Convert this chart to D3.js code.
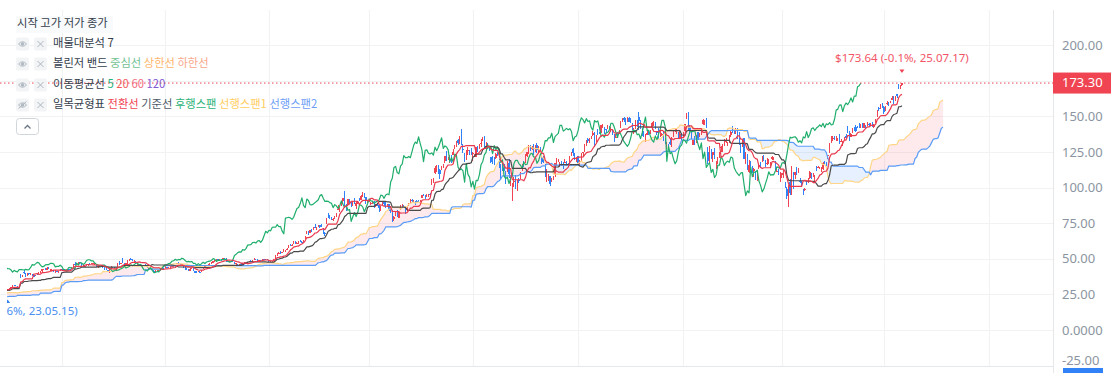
<!DOCTYPE html>
<html>
<head>
<meta charset="utf-8">
<script src="https://cdn.jsdelivr.net/npm/d3@7"></script>
<style>
body { margin: 0; background: #fff; }
svg { display: block; font-family: "Noto Sans CJK KR", "Noto Sans", sans-serif; }
</style>
</head>
<body>
<div id="chart"></div>
<script>
const WIDTH = 1114, HEIGHT = 373;
const PLOT = {left: 7, right: 1053, top: 10, bottom: 367};
const BAR_STEP = 1.644, FIRST_X = 7.6;
const ICHIMOKU = {conversion: 9, base: 26, spanB: 52, shift: 25};

// trading calendar
const startDate = '2023-01-20';
const firstVisibleDate = '2023-05-15';
const holidays = ['2023-02-20','2023-04-07','2023-05-29','2023-06-19','2023-07-04','2023-09-04','2023-11-23','2023-12-25',
  '2024-01-01','2024-01-15','2024-02-19','2024-03-29','2024-05-27','2024-06-19','2024-07-04','2024-09-02','2024-11-28','2024-12-25',
  '2025-01-01','2025-01-09','2025-01-20','2025-02-17','2025-04-18','2025-05-26','2025-06-19','2025-07-04','2025-09-01','2025-11-27','2025-12-25'];

// daily candles: [open, high, low, close]
const prices2023 = [
  // Jan (from 20th)
  [17.3,17.9,17.1,17.8],[18.1,19.3,17.9,19.2],[19.0,19.5,18.9,19.2],[18.8,19.4,18.6,19.3],[19.6,19.9,19.2,19.8],[19.8,20.6,19.7,20.3],[19.9,20.0,19.2,19.2],[19.2,19.6,19.0,19.5],
  // Feb
  [19.5,21.0,19.3,20.9],[21.5,21.8,21.2,21.7],[21.0,21.6,20.9,21.1],[20.8,21.3,20.6,21.1],[21.2,22.4,21.0,22.3],[22.2,22.6,21.9,22.2],[22.5,22.6,21.8,21.9],[21.6,21.7,20.9,21.2],[21.3,21.7,21.0,21.6],[21.6,22.9,21.3,22.8],
  [22.6,22.7,22.1,22.5],[22.0,22.2,21.6,21.7],[21.5,21.6,20.9,21.3],[20.9,21.1,20.6,20.7],[20.9,21.0,20.4,20.7],[23.5,23.7,22.6,23.4],[22.9,23.4,22.7,23.3],[23.5,23.9,23.2,23.5],[23.2,23.6,23.1,23.2],
  // Mar
  [23.0,23.1,22.3,22.7],[22.4,23.2,22.3,23.1],[23.2,24.0,23.1,23.9],[23.9,24.1,23.5,23.6],[23.6,23.9,23.2,23.4],[23.5,24.3,23.4,24.2],[24.2,24.4,23.6,23.7],[23.6,23.6,22.7,22.9],[22.6,23.3,22.2,22.9],[23.5,24.3,23.2,24.2],[24.0,24.4,23.8,24.3],[24.3,25.6,24.2,25.5],
  [25.6,26.0,25.5,25.7],[25.6,26.0,25.2,25.9],[26.0,26.6,25.9,26.1],[26.4,27.1,26.4,26.5],[26.8,27.2,26.3,27.1],[26.8,26.9,26.3,26.7],[26.8,26.9,26.3,26.5],[26.4,26.5,26.0,26.4],[26.8,27.1,26.6,26.9],[27.3,27.6,27.1,27.3],[27.5,27.8,27.3,27.8],
  // Apr
  [27.5,28.0,27.3,27.9],[27.9,28.1,27.3,27.5],[27.3,27.3,26.7,26.9],[26.8,27.2,26.5,27.0],[26.8,27.4,26.8,27.3],[27.3,27.5,27.0,27.1],[27.3,27.3,26.5,26.5],[26.6,26.9,26.3,26.7],[26.6,27.0,26.5,26.7],[26.8,27.0,26.6,27.0],
  [27.1,27.4,26.9,27.1],[26.7,27.1,26.6,27.0],[26.7,27.2,26.6,27.0],[27.0,27.2,26.8,27.1],[27.1,27.2,26.6,27.0],[26.9,27.0,26.2,26.2],[26.3,27.1,26.2,26.9],[27.2,27.3,26.9,27.2],[27.1,27.8,27.0,27.7],
  // May
  [27.9,29.0,27.8,28.9],[28.6,28.7,28.0,28.3],[28.2,28.5,27.7,27.9],[27.8,27.9,27.3,27.6],[27.9,28.8,27.8,28.7],[28.7,29.5,28.6,29.3],[29.0,29.0,28.4,28.5],[28.8,29.0,28.3,28.7],[28.7,28.8,28.1,28.3],[28.5,28.6,27.8,28.3],
  [28.6,28.7,28.14,28.3],[28.4,29.2,28.3,29.1],[29.3,30.3,29.0,30.2],[30.5,31.7,30.3,31.6],[31.6,31.9,30.9,31.2],[31.3,31.6,30.6,31.1],[31.0,31.2,30.2,30.7],[30.2,30.7,29.9,30.5],[38.5,39.5,36.6,37.9],[38.2,38.9,36.9,38.9],[40.4,41.9,39.4,40.1],[39.3,40.0,37.3,37.8],
  // Jun
  [38.4,39.8,38.1,39.7],[39.8,40.0,38.8,39.3],[39.0,39.7,38.6,39.2],[39.2,39.2,38.0,38.7],[38.7,39.0,37.4,37.5],[37.8,38.7,37.6,38.6],[39.0,39.5,38.6,38.8],[39.1,40.6,39.0,40.5],[41.0,41.1,40.1,41.0],[41.5,43.0,41.0,42.9],[42.4,42.9,41.9,42.6],
  [43.0,43.3,42.4,42.6],[42.4,43.9,42.4,43.8],[43.6,43.9,42.6,43.0],[42.1,43.0,41.7,43.0],[42.0,42.6,41.6,42.2],[42.0,42.1,40.5,40.6],[40.6,42.0,40.2,41.9],[41.3,41.5,40.7,41.1],[40.8,41.5,40.5,40.8],[41.6,42.5,41.5,42.3],
  // Jul
  [42.6,42.8,42.1,42.4],[42.1,42.4,41.5,42.3],[41.7,42.3,41.3,42.1],[42.0,42.8,41.9,42.5],[42.4,42.6,41.3,42.2],[42.5,42.6,41.7,42.4],[43.2,43.9,42.9,43.9],[44.5,46.1,44.3,45.9],[46.4,48.0,45.3,45.5],[46.2,46.5,45.4,46.4],
  [46.5,47.7,45.9,47.5],[47.4,47.6,46.5,47.1],[46.7,46.9,45.2,45.5],[45.6,45.7,44.0,44.3],[44.6,45.1,43.9,44.6],[44.9,45.9,44.6,45.7],[45.3,46.0,45.0,45.9],[47.0,47.3,45.5,45.9],[46.6,47.0,46.3,46.7],[46.7,46.8,46.0,46.7],
  // Aug
  [46.2,46.7,45.9,46.5],[45.7,45.7,43.9,44.3],[43.9,45.0,43.7,44.6],[45.0,45.5,44.3,44.6],[44.6,45.6,44.2,45.5],[44.7,45.2,43.2,44.6],[44.4,44.5,42.1,42.5],[42.9,43.3,41.9,42.4],[42.1,42.3,40.5,40.9],[40.4,43.8,40.3,43.7],[43.9,44.7,43.1,43.9],[44.2,44.5,43.2,43.4],
  [44.0,44.4,42.8,43.4],[42.5,43.5,41.7,43.3],[44.0,47.0,43.9,46.9],[47.6,48.1,45.3,45.6],[46.8,47.3,46.0,47.1],[50.2,50.2,47.0,47.1],[46.1,46.9,44.8,46.0],[46.5,46.9,45.8,46.8],[46.8,49.0,46.6,48.8],[48.9,49.6,48.5,49.3],[49.7,50.2,49.2,49.3],
  // Sep
  [49.9,49.9,48.2,48.5],[48.4,48.9,47.8,48.5],[48.6,48.6,46.6,47.0],[45.9,46.8,45.4,46.2],[46.1,46.5,45.4,45.5],[46.1,46.3,44.7,45.1],[44.7,45.5,44.4,45.1],[44.9,45.6,44.6,45.5],[46.2,46.4,45.3,45.6],[45.3,45.4,43.8,43.9],
  [42.8,44.2,42.8,43.9],[43.6,43.9,42.8,43.5],[43.7,43.8,42.2,42.2],[41.7,42.0,41.0,41.0],[41.4,42.0,41.2,41.6],[41.2,42.3,41.1,42.2],[41.7,42.2,41.5,41.9],[42.0,42.5,41.6,42.4],[42.0,43.2,41.8,43.0],[43.7,43.8,43.2,43.5],
  // Oct
  [44.0,44.9,43.8,44.8],[44.5,44.5,43.3,43.5],[43.3,44.1,43.2,44.0],[43.8,44.8,43.7,44.6],[44.0,45.8,44.0,45.7],[45.0,45.3,44.5,45.2],[45.2,45.9,45.1,45.7],[46.3,46.9,46.1,46.9],[47.0,47.4,46.5,46.9],[46.8,46.8,45.3,45.5],[45.6,46.3,45.3,46.1],
  [44.1,44.9,43.3,43.9],[43.9,44.1,42.0,42.2],[42.5,43.3,41.9,42.1],[42.3,42.6,41.3,41.4],[41.6,43.3,41.2,42.9],[43.2,43.8,42.8,43.6],[43.2,43.2,41.7,41.8],[41.2,41.4,40.1,40.3],[40.8,41.2,40.4,40.5],[41.0,41.6,40.6,41.1],[40.9,41.1,40.2,40.8],
  // Nov
  [40.9,42.4,40.8,42.3],[42.9,43.6,42.6,43.5],[44.0,45.1,43.9,45.0],[45.0,45.8,44.7,45.7],[45.9,46.3,45.5,45.9],[46.0,46.7,45.8,46.6],[46.9,47.5,46.6,46.9],[47.2,48.4,46.9,48.3],[48.2,48.8,47.9,48.6],[49.5,49.7,48.6,49.6],[49.9,50.0,48.7,48.9],
  [48.8,49.6,48.3,49.5],[49.4,49.6,48.8,49.3],[49.4,50.5,49.1,50.4],[50.2,50.5,49.4,49.9],[49.9,50.2,48.0,48.8],[48.4,48.4,47.7,47.8],[47.8,48.6,47.7,48.2],[48.2,48.3,47.4,47.8],[48.3,48.8,47.8,48.1],[47.9,47.9,46.5,46.8],
  // Dec
  [46.5,47.0,45.9,46.8],[46.0,46.0,45.0,45.5],[45.3,46.6,45.0,46.6],[46.6,46.8,45.5,45.5],[45.8,46.7,45.6,46.6],[46.5,47.6,46.4,47.5],[47.3,47.4,46.0,46.6],[46.6,47.7,46.2,47.7],[47.6,48.5,47.4,48.1],[48.4,48.8,47.6,48.3],
  [48.0,49.4,47.9,48.9],[49.1,50.4,48.9,50.1],[50.1,50.1,49.2,49.6],[49.5,49.9,48.1,48.1],[48.8,49.2,48.2,49.0],[49.2,49.4,48.4,48.8],[48.9,49.6,48.6,49.3],[49.5,49.7,49.1,49.4],[49.6,49.9,49.3,49.5],[49.8,49.9,48.8,49.5]
];

const prices2024 = [
  // Jan
  [49.2,49.3,47.6,48.2],[47.5,48.2,47.3,47.6],[47.8,48.5,47.5,48.0],[48.5,49.5,48.5,49.1],[49.5,52.3,49.5,52.3],[52.4,54.3,51.7,53.1],[53.6,54.6,53.6,54.3],[54.9,55.3,53.6,54.8],[54.6,55.0,54.2,54.7],[55.0,56.5,54.8,56.4],[55.5,56.3,55.0,56.0],
  [56.6,57.5,56.3,57.1],[57.9,59.5,57.4,59.5],[59.9,60.5,59.4,59.7],[59.9,60.2,59.0,59.9],[61.2,62.8,60.6,61.3],[62.2,62.7,60.7,61.6],[60.9,61.6,60.3,61.0],[61.2,62.4,60.7,62.4],[62.9,63.3,62.0,62.8],[61.7,62.6,61.5,61.5],
  // Feb
  [62.1,63.1,61.8,63.0],[63.9,66.2,63.7,66.1],[68.3,69.4,67.6,69.3],[69.3,69.4,66.4,68.2],[68.3,70.1,68.3,70.0],[70.3,70.7,69.0,69.6],[70.5,72.1,70.0,72.1],[72.6,74.6,71.4,72.2],[70.4,72.1,70.0,72.1],[73.3,74.0,72.3,73.9],
  [73.8,73.9,71.5,72.6],[74.1,74.4,72.4,72.6],[71.9,71.9,67.7,69.4],[68.2,68.6,66.2,67.5],[75.0,78.6,74.6,78.5],[80.7,82.4,78.3,78.8],[79.7,80.6,78.1,79.1],[79.3,79.6,77.2,78.7],[77.6,78.9,76.2,77.6],[79.0,79.9,78.2,79.1],
  // Mar
  [80.0,82.3,79.4,82.3],[84.1,87.6,84.1,85.2],[85.2,86.1,83.1,86.0],[88.0,89.7,86.7,88.7],[90.2,92.7,89.3,92.7],[95.1,97.4,86.5,87.5],[86.4,88.6,83.3,85.8],[88.1,91.9,86.9,91.9],[91.3,91.9,88.3,90.9],[89.6,90.6,86.0,87.9],
  [86.9,89.6,86.7,87.8],[90.4,92.4,88.1,88.4],[86.7,90.6,85.0,89.4],[89.8,90.4,88.2,90.4],[92.3,92.6,90.3,91.4],[91.2,94.7,90.9,94.3],[93.9,96.8,93.4,95.0],[95.8,96.4,92.5,92.5],[93.1,93.2,88.7,90.2],[90.0,91.2,89.3,90.4],
  // Apr
  [90.2,92.2,89.9,90.3],[88.4,89.5,87.8,89.4],[88.4,90.3,88.1,88.9],[90.4,90.7,85.9,85.9],[86.8,88.4,86.0,88.0],[88.7,88.8,86.8,87.1],[87.4,87.6,83.0,85.3],[83.9,87.1,83.8,87.0],[87.4,90.7,86.9,90.6],[89.7,90.1,87.1,88.2],[89.0,90.6,85.9,86.0],
  [86.5,88.1,86.0,87.4],[88.3,88.4,83.6,84.0],[84.9,86.1,82.4,84.6],[83.2,84.3,75.6,76.2],[78.1,80.0,76.2,79.5],[80.8,82.8,80.3,82.4],[83.9,84.0,79.0,79.6],[78.9,82.9,78.8,82.6],[84.5,88.0,84.0,87.7],[87.6,88.6,86.4,87.7],[87.2,88.0,86.3,86.4],
  // May
  [85.0,86.0,81.2,83.0],[84.5,86.0,83.5,85.8],[87.8,89.2,87.2,88.8],[89.4,92.2,89.3,92.1],[91.0,91.8,89.7,90.6],[89.5,90.9,89.3,90.4],[90.1,90.2,87.4,88.7],[90.3,91.0,89.2,89.9],[90.7,91.1,89.9,90.4],[89.9,91.4,89.5,91.3],[92.5,94.7,92.4,94.6],
  [95.0,95.4,94.0,94.4],[94.3,94.7,92.0,92.4],[93.3,95.4,93.0,94.8],[94.0,95.4,93.1,95.4],[95.4,96.0,94.0,94.9],[102.0,106.3,101.5,103.8],[104.4,106.5,103.0,106.5],[110.2,114.9,109.2,114.0],[113.1,115.5,110.9,114.8],[114.7,115.8,109.7,110.5],[112.5,112.7,106.0,109.6],
  // Jun
  [113.6,115.0,112.3,115.0],[115.7,116.6,114.0,116.4],[118.4,122.4,117.5,122.4],[124.1,125.6,118.3,120.9],[119.8,121.7,119.0,120.9],[120.4,123.1,117.0,121.8],[121.8,122.9,117.0,120.9],[123.1,126.9,122.8,125.2],[129.4,129.8,127.1,129.6],[129.9,132.8,128.3,131.9],
  [133.0,133.7,129.6,130.9],[131.1,136.3,130.7,135.6],[139.8,140.8,129.5,130.8],[127.1,130.6,124.3,126.6],[123.2,124.5,118.0,118.1],[121.2,126.5,119.3,126.1],[126.1,128.1,122.6,126.4],[124.1,126.4,122.9,124.0],[124.6,127.7,122.8,123.5],
  // Jul
  [123.5,124.8,118.8,124.3],[121.1,123.4,121.1,122.7],[121.7,128.3,121.4,128.3],[127.4,128.9,125.2,125.8],[127.5,130.8,127.0,128.2],[130.4,133.8,128.7,131.4],[134.0,135.1,132.4,134.9],[135.8,136.2,127.0,127.4],[128.3,131.9,127.2,129.2],[130.6,131.4,127.2,128.4],[128.4,128.9,125.5,126.4],
  [121.4,121.6,117.2,118.0],[121.8,122.4,116.7,121.1],[120.4,121.6,116.0,117.9],[120.4,124.1,119.9,123.5],[122.8,124.7,122.1,122.6],[119.2,119.9,113.4,114.3],[113.0,116.6,106.3,112.3],[116.2,116.2,111.6,113.1],[113.7,116.3,111.3,111.6],[111.5,111.6,102.5,103.7],[112.9,118.3,110.9,117.0],
  // Aug
  [117.5,120.2,106.8,109.2],[103.8,108.7,101.4,107.3],[92.1,103.4,90.7,100.5],[103.8,107.7,100.6,104.3],[107.8,108.8,98.7,98.9],[102.0,105.5,97.5,105.0],[105.6,106.6,103.4,104.8],[106.3,111.1,106.3,109.0],[112.4,116.2,111.6,116.1],[118.5,118.6,114.1,118.1],[118.8,123.2,117.5,122.9],
  [121.9,125.0,121.2,124.6],[124.3,130.0,123.4,130.0],[128.4,129.9,125.9,127.3],[127.3,129.4,126.2,128.5],[130.0,130.8,123.1,123.7],[125.9,129.6,125.2,129.4],[129.6,131.3,124.4,126.5],[125.0,129.2,123.9,128.3],[128.1,128.3,122.6,125.6],[121.4,124.4,116.7,117.6],[119.5,121.8,117.2,119.4],
  // Sep
  [116.0,116.2,107.3,108.0],[105.4,113.3,104.1,106.2],[105.0,109.7,104.8,107.2],[108.0,108.2,100.9,102.8],[104.9,106.6,103.7,106.5],[107.8,108.4,105.3,108.1],[109.4,117.2,107.4,116.9],[116.8,120.8,115.4,119.1],[119.1,120.0,117.6,119.1],[116.8,118.2,114.4,116.8],
  [118.2,118.8,114.8,115.6],[115.9,117.7,113.2,113.4],[117.4,119.7,117.2,117.9],[117.1,118.6,115.4,116.0],[116.6,117.0,114.9,116.3],[116.5,121.8,115.4,120.9],[122.0,124.9,121.9,123.5],[126.8,127.7,121.8,124.0],[124.0,124.0,119.3,121.4],[118.3,121.5,118.2,121.4],
  // Oct
  [121.8,122.4,115.8,117.0],[116.4,119.4,115.1,118.9],[120.9,124.4,118.6,122.9],[124.9,125.0,121.8,124.9],[125.0,130.6,124.9,127.7],[130.3,133.5,129.4,132.9],[134.1,134.5,131.4,132.7],[131.9,135.0,131.0,134.8],[134.0,135.8,133.7,134.8],[136.5,139.6,136.3,138.1],[137.9,138.6,128.7,131.6],[134.0,136.6,131.6,135.7],
  [139.3,140.9,136.9,136.9],[138.7,138.9,137.3,138.0],[138.1,143.7,138.0,143.7],[142.9,144.4,141.8,143.6],[142.0,142.4,137.5,139.6],[140.8,141.4,138.0,140.4],[140.9,144.1,140.8,141.5],[143.0,143.1,140.1,140.5],[140.3,142.3,138.9,141.3],[139.5,140.3,136.8,139.3],[137.6,137.6,132.1,132.8],
  // Nov
  [134.7,137.3,134.6,135.4],[137.2,139.0,135.6,136.1],[137.5,140.4,137.3,139.9],[143.0,146.5,142.0,145.6],[146.4,148.9,146.2,148.9],[148.8,149.8,146.3,147.6],[148.7,148.9,143.6,145.3],[146.8,149.7,146.1,148.3],[149.1,149.3,145.9,146.3],[147.6,149.0,145.6,146.8],
  [144.9,145.2,140.1,142.0],[139.5,141.6,137.2,140.2],[141.3,147.1,141.0,147.0],[147.4,147.6,142.7,145.9],[149.4,152.9,140.7,146.7],[145.9,147.2,141.1,142.0],[142.0,142.1,135.8,136.0],[137.7,139.3,135.7,136.9],[135.0,137.2,131.8,135.3],[136.8,139.4,136.7,138.3],
  // Dec
  [138.8,140.4,137.0,138.6],[138.3,140.5,137.8,140.3],[142.0,145.8,140.3,145.1],[145.1,146.5,143.2,145.1],[144.6,145.7,141.3,142.4],[139.0,140.0,137.1,138.8],[139.0,141.8,133.8,135.1],[137.4,140.2,135.2,139.3],[137.1,138.4,135.8,137.3],[138.9,139.6,132.5,134.3],[134.2,134.4,130.4,132.0],
  [129.1,131.6,126.9,130.4],[130.0,130.8,128.3,128.9],[131.8,134.0,129.6,130.7],[129.8,135.3,128.2,134.7],[136.3,139.8,135.1,139.7],[140.0,141.9,138.7,140.2],[139.7,140.9,137.7,139.9],[138.6,139.0,134.7,137.0],[134.8,140.3,134.0,137.5],[138.0,138.1,133.5,134.3]
];

const prices2025 = [
  // Jan
  [136.0,138.9,134.6,138.3],[140.0,144.9,139.7,144.5],[148.6,152.2,147.8,149.4],[153.0,153.1,140.0,140.1],[142.6,144.0,137.6,140.1],[137.5,139.9,134.2,135.9],[130.0,133.5,129.5,133.2],[136.1,136.4,130.1,131.8],[133.7,136.5,131.3,136.2],[138.6,138.8,133.5,133.6],
  [136.7,138.5,135.5,137.7],[139.2,141.8,137.1,140.8],[144.7,147.8,143.7,147.1],[145.1,147.2,143.7,147.2],[148.4,149.0,141.9,142.6],[124.8,128.4,116.7,118.4],[121.8,129.0,116.3,129.0],[126.5,126.9,120.1,123.7],[123.1,125.0,118.1,124.7],[123.8,127.9,120.0,120.1],
  // Feb
  [114.8,118.6,113.0,116.7],[117.0,121.2,116.7,118.7],[121.8,125.0,120.8,124.8],[127.4,128.8,125.2,128.7],[129.2,130.4,125.0,129.8],[130.1,133.9,129.0,133.6],[132.6,134.5,131.0,132.8],[130.0,132.2,129.1,131.1],[131.6,136.5,131.2,135.3],[136.5,139.3,135.5,138.9],
  [141.3,143.4,137.9,139.4],[139.5,141.4,137.8,139.2],[140.0,141.5,137.4,140.1],[140.0,141.5,134.0,134.4],[136.6,138.6,130.1,130.3],[130.0,130.2,124.4,126.6],[130.0,133.7,128.5,131.3],[135.0,135.0,120.0,120.2],[118.0,125.1,116.4,124.9],
  // Mar
  [123.5,123.7,112.3,114.1],[110.7,119.3,110.1,116.0],[117.6,118.3,114.5,117.3],[113.5,115.4,110.0,110.6],[111.3,113.5,107.6,112.7],[109.9,111.9,105.5,107.0],[107.0,112.2,104.8,108.8],[114.1,116.8,113.2,115.7],[117.0,117.8,113.8,115.6],[118.6,121.8,118.2,121.7],[122.7,122.9,118.7,119.5],
  [118.0,119.0,114.5,115.4],[117.3,120.5,116.0,117.5],[116.6,120.0,116.5,118.5],[116.8,118.0,115.4,117.7],[119.9,122.2,119.3,121.4],[120.6,121.3,119.1,120.7],[118.7,118.8,112.3,113.8],[111.4,114.5,110.7,111.4],[111.5,112.9,109.1,109.7],[105.1,111.0,103.7,108.4],
  // Apr
  [108.5,110.2,106.5,110.2],[107.3,112.0,106.8,110.4],[103.5,103.9,100.0,101.8],[98.9,100.1,92.1,94.3],[87.5,101.8,86.6,97.6],[103.8,105.9,94.5,96.3],[98.9,115.1,94.9,114.3],[109.4,110.9,99.2,107.6],[108.5,110.9,105.8,110.9],[114.1,114.3,109.1,110.7],[111.0,113.6,110.5,112.2],
  [104.6,106.6,102.9,104.5],[104.5,104.8,100.1,101.5],[98.8,99.0,95.0,96.9],[98.8,99.8,97.3,98.9],[104.5,104.8,102.0,102.7],[103.5,106.5,103.1,106.4],[106.9,111.9,105.7,111.0],[109.7,110.4,106.0,108.7],[107.7,110.2,107.4,109.0],[104.5,109.0,104.1,108.9],
  // May
  [113.1,114.9,111.3,111.6],[114.2,115.4,113.4,114.5],[112.9,114.7,112.7,113.8],[111.5,114.7,110.8,113.5],[113.1,117.7,112.3,117.1],[118.3,118.7,115.9,117.4],[117.4,118.2,115.2,116.7],[122.0,123.1,120.3,123.0],[125.0,131.2,124.5,129.9],[133.2,136.0,131.5,135.3],[134.3,136.3,132.7,134.8],
  [136.2,136.4,133.5,135.4],[132.4,135.9,132.4,135.6],[134.3,134.6,132.6,134.4],[133.1,137.4,130.6,131.8],[132.2,134.3,131.6,132.8],[130.0,132.7,129.2,131.3],[134.2,135.7,133.3,135.5],[136.0,137.3,134.8,134.8],[142.3,143.5,137.9,139.2],[138.7,139.6,132.9,135.1],
  // Jun
  [135.5,138.1,135.4,137.4],[138.8,142.0,138.0,141.2],[142.2,142.4,139.5,141.9],[142.2,144.0,138.8,140.0],[142.5,143.3,141.5,141.7],[143.2,145.0,141.9,142.6],[142.7,144.3,141.5,144.0],[144.6,145.0,141.9,142.8],[142.0,145.1,141.9,145.0],[142.5,143.6,140.9,142.0],
  [143.4,146.2,143.2,144.7],[144.5,145.2,143.2,144.1],[144.0,145.6,143.1,145.5],[145.5,146.2,142.7,143.9],[142.5,144.8,142.0,144.2],[145.6,147.9,145.5,147.9],[149.3,154.5,149.3,154.3],[155.9,156.7,154.0,155.0],[156.0,158.7,155.2,157.8],[158.4,159.0,156.0,158.0],
  // Jul
  [156.3,157.2,151.5,153.3],[153.7,157.3,153.6,157.3],[158.4,161.0,157.6,159.3],[158.7,159.9,157.1,158.2],[159.8,160.5,159.5,160.0],[161.2,164.4,161.2,162.9],[164.3,164.4,158.3,160.0],[161.8,164.4,161.0,164.1],[165.4,165.5,162.5,164.1],[172.0,172.4,169.2,170.7],
  [171.1,171.8,169.3,171.4],[172.0,173.64,170.9,173.3]
];

const yTicks = [200, 175, 150, 125, 100, 75, 50, 25, 0, -25];
const yTickLabels = ['200.00', '175.00', '150.00', '125.00', '100.00', '75.00', '50.00', '25.00', '0.0000', '-25.00'];
const priceTag = '173.30';
const maxLabel = '$173.64 (-0.1%, 25.07.17)';
const minLabel = '$28.14 (-83.76%, 23.05.15)';

const COLORS = {
  up: '#f04452', down: '#3182f6',
  conversion: '#e8394e', base: '#4a4a4a', lagging: '#1fae6c',
  spanA: '#ffd688', spanB: '#5b9cf6',
  cloudUp: 'rgba(244, 96, 110, 0.13)', cloudDown: 'rgba(91, 156, 246, 0.15)',
  grid: '#f0f2f4', axisText: '#8b95a1', text: '#333d4b'
};

const legendRows = [
  {y: 24, icons: false, parts: [['시작 고가 저가 종가', COLORS.text]]},
  {y: 44, icons: 'eye', parts: [['매물대분석 7', COLORS.text]]},
  {y: 64, icons: 'eye', parts: [['볼린저 밴드', COLORS.text], ['중심선', '#72c294'], ['상한선', '#ffb56b'], ['하한선', '#f9a88c']]},
  {y: 85, icons: 'eye', parts: [['이동평균선', COLORS.text], ['5', '#27b47a'], ['20', '#f25a5a'], ['60', '#f26b82'], ['120', '#8358d4']]},
  {y: 105, icons: 'hidden', parts: [['일목균형표', COLORS.text], ['전환선', '#f04452'], ['기준선', '#4e5968'], ['후행스팬', '#2bb276'], ['선행스팬1', '#ffcd5e'], ['선행스팬2', '#6b9ef6']]}
];

// ---------- helpers
const parseDate = d3.utcParse('%Y-%m-%d');
const fmtDate = d3.utcFormat('%Y-%m-%d');
const holidaySet = new Set(holidays);

function tradingDays(from, count) {
  const out = [];
  let d = parseDate(from);
  while (out.length < count) {
    const wd = d.getUTCDay();
    if (wd !== 0 && wd !== 6 && !holidaySet.has(fmtDate(d))) out.push(d);
    d = d3.utcDay.offset(d, 1);
  }
  return out;
}

function midRange(data, i, n) {
  if (i < n - 1) return null;
  const win = data.slice(i - n + 1, i + 1);
  return (d3.max(win, d => d[1]) + d3.min(win, d => d[2])) / 2;
}

// ---------- data prep
const candles = [...prices2023, ...prices2024, ...prices2025];
const dates = tradingDays(startDate, candles.length + 140);
const offset = dates.findIndex(d => fmtDate(d) === firstVisibleDate);

const conversion = candles.map((d, i) => ({i, v: midRange(candles, i, ICHIMOKU.conversion)}));
const base = candles.map((d, i) => ({i, v: midRange(candles, i, ICHIMOKU.base)}));
const spanA = candles.map((d, i) => {
  const t = conversion[i].v, k = base[i].v;
  return {i: i + ICHIMOKU.shift, v: t != null && k != null ? (t + k) / 2 : null};
});
const spanB = candles.map((d, i) => ({i: i + ICHIMOKU.shift, v: midRange(candles, i, ICHIMOKU.spanB)}));
const lagging = candles.map((d, i) => ({i: i - ICHIMOKU.shift, v: d[3]}));
const cloud = spanA.map((a, k) => ({i: a.i, a: a.v, b: spanB[k].v})).filter(d => d.a != null && d.b != null);

// ---------- scales
const x = d3.scaleLinear().domain([offset, offset + 1]).range([FIRST_X, FIRST_X + BAR_STEP]);
const y = d3.scaleLinear().domain([0, 200]).range([330, 45]);

const svg = d3.select('#chart').append('svg')
  .attr('width', WIDTH)
  .attr('height', HEIGHT);

svg.append('defs').append('clipPath').attr('id', 'plot-clip')
  .append('rect')
  .attr('x', PLOT.left).attr('y', PLOT.top)
  .attr('width', PLOT.right - PLOT.left).attr('height', PLOT.bottom - PLOT.top);

// grid
const grid = svg.append('g').attr('class', 'grid');
grid.selectAll('line.h').data(yTicks).join('line')
  .attr('class', 'h')
  .attr('x1', 0).attr('x2', PLOT.right)
  .attr('y1', d => Math.round(y(d)) + 0.5).attr('y2', d => Math.round(y(d)) + 0.5)
  .attr('stroke', COLORS.grid);

const quarterStarts = d3.range(1, dates.length).filter(i =>
  dates[i].getUTCMonth() !== dates[i - 1].getUTCMonth() && dates[i].getUTCMonth() % 3 === 0);
grid.selectAll('line.v').data(quarterStarts.filter(i => x(i) > PLOT.left && x(i) < PLOT.right)).join('line')
  .attr('class', 'v')
  .attr('x1', i => Math.round(x(i)) + 0.5).attr('x2', i => Math.round(x(i)) + 0.5)
  .attr('y1', PLOT.top).attr('y2', PLOT.bottom)
  .attr('stroke', COLORS.grid);

svg.append('line')
  .attr('x1', 0).attr('x2', PLOT.right)
  .attr('y1', PLOT.bottom - 0.5).attr('y2', PLOT.bottom - 0.5)
  .attr('stroke', '#e5e8eb');

// plot body
const plot = svg.append('g').attr('clip-path', 'url(#plot-clip)');

plot.append('path').datum(cloud)
  .attr('fill', COLORS.cloudUp)
  .attr('d', d3.area().x(d => x(d.i)).y0(d => y(d.b)).y1(d => y(Math.max(d.a, d.b))));
plot.append('path').datum(cloud)
  .attr('fill', COLORS.cloudDown)
  .attr('d', d3.area().x(d => x(d.i)).y0(d => y(d.a)).y1(d => y(Math.max(d.a, d.b))));

// candles
const bodyW = 1.3;
const candleG = plot.append('g').attr('shape-rendering', 'crispEdges');
const cs = candleG.selectAll('g').data(candles.map((d, i) => ({i, o: d[0], h: d[1], l: d[2], c: d[3]})))
  .join('g')
  .attr('fill', d => d.c >= d.o ? COLORS.up : COLORS.down)
  .attr('stroke', d => d.c >= d.o ? COLORS.up : COLORS.down);
cs.append('line')
  .attr('x1', d => x(d.i)).attr('x2', d => x(d.i))
  .attr('y1', d => y(d.h)).attr('y2', d => y(d.l))
  .attr('stroke-width', 1);
cs.append('rect')
  .attr('stroke', 'none')
  .attr('x', d => x(d.i) - bodyW / 2)
  .attr('width', bodyW)
  .attr('y', d => y(Math.max(d.o, d.c)))
  .attr('height', d => Math.max(1, Math.abs(y(d.o) - y(d.c))));

// ichimoku lines
const line = d3.line().defined(d => d.v != null).x(d => x(d.i)).y(d => y(d.v));
[[spanA, COLORS.spanA], [spanB, COLORS.spanB], [lagging, COLORS.lagging], [base, COLORS.base], [conversion, COLORS.conversion]]
  .forEach(([series, color]) => {
    plot.append('path').datum(series)
      .attr('fill', 'none')
      .attr('stroke', color)
      .attr('stroke-width', 1.2)
      .attr('stroke-linejoin', 'round')
      .attr('d', line);
  });

// high / low markers over the visible range
const visible = d3.range(offset, candles.length);
const hiIdx = visible.reduce((a, b) => candles[b][1] > candles[a][1] ? b : a);
const loIdx = visible.reduce((a, b) => candles[b][2] < candles[a][2] ? b : a);

plot.append('path')
  .attr('d', `M${x(hiIdx) - 2.5},${y(candles[hiIdx][1]) - 13} l5,0 l-2.5,3.5z`)
  .attr('fill', COLORS.up);
plot.append('text')
  .attr('x', x(hiIdx)).attr('y', y(candles[hiIdx][1]) - 24)
  .attr('text-anchor', 'middle').attr('dominant-baseline', 'middle')
  .attr('fill', '#f25566')
  .style('font-family', '"Noto Sans", sans-serif').style('font-size', '11.5px')
  .text(maxLabel);

plot.append('path')
  .attr('d', `M${x(loIdx) - 2.5},${y(candles[loIdx][2]) + 13} l5,0 l-2.5,-3.5z`)
  .attr('fill', COLORS.down);
plot.append('text')
  .attr('x', x(loIdx)).attr('y', y(candles[loIdx][2]) + 22)
  .attr('text-anchor', 'middle').attr('dominant-baseline', 'middle')
  .attr('fill', '#4a90f0')
  .style('font-family', '"Noto Sans", sans-serif').style('font-size', '11.5px')
  .text(minLabel);

// current price line
const last = candles[candles.length - 1][3];
svg.append('line')
  .attr('x1', 0).attr('x2', PLOT.right)
  .attr('y1', y(last)).attr('y2', y(last))
  .attr('stroke', COLORS.up)
  .attr('stroke-dasharray', '1.5,2.5');

// y axis
svg.append('line')
  .attr('x1', PLOT.right + 0.5).attr('x2', PLOT.right + 0.5)
  .attr('y1', PLOT.top).attr('y2', HEIGHT)
  .attr('stroke', '#e5e8eb');

const yAxis = d3.axisRight(y)
  .tickValues(yTicks)
  .tickFormat((d, i) => yTickLabels[i])
  .tickSize(0)
  .tickPadding(9);
svg.append('g')
  .attr('transform', `translate(${PLOT.right},0)`)
  .call(yAxis)
  .call(g => g.select('.domain').remove())
  .call(g => g.selectAll('.tick').filter(d => d === d3.min(yTicks)).select('text').attr('dy', '-0.05em'))
  .selectAll('text')
  .attr('fill', COLORS.axisText)
  .style('font-family', '"Noto Sans", sans-serif')
  .style('font-size', '13px');

// price tag
svg.append('rect')
  .attr('x', PLOT.right).attr('y', y(last) - 10.5)
  .attr('width', 58).attr('height', 21)
  .attr('fill', COLORS.up);
svg.append('text')
  .attr('x', PLOT.right + 9).attr('y', y(last))
  .attr('dominant-baseline', 'middle')
  .attr('fill', '#fff')
  .style('font-family', '"Noto Sans", sans-serif').style('font-size', '13px')
  .text(priceTag);

svg.append('rect')
  .attr('x', 1063).attr('y', 368)
  .attr('width', 40).attr('height', 7)
  .attr('fill', COLORS.down);

// legend
const legend = svg.append('g').style('font-size', '11.3px');

legend.append('rect')
  .attr('x', 16).attr('y', 16).attr('width', 97).attr('height', 17)
  .attr('fill', '#f9fafb');

legendRows.forEach(row => {
  let tx = 17;
  if (row.icons) {
    tx = 53;
    [16, 34].forEach(bx => legend.append('rect')
      .attr('x', bx).attr('y', row.y - 6.5).attr('width', 13).attr('height', 13).attr('rx', 2)
      .attr('fill', '#f2f4f6'));
    const eye = legend.append('g').attr('transform', `translate(22.5,${row.y})`)
      .attr('fill', 'none').attr('stroke', '#b0b8c1').attr('stroke-width', 1);
    eye.append('path').attr('d', 'M-4,0 Q0,-4.5 4,0 Q0,4.5 -4,0Z');
    eye.append('circle').attr('r', 1.3).attr('fill', '#b0b8c1');
    if (row.icons === 'hidden') eye.append('line').attr('x1', -4).attr('y1', 3.5).attr('x2', 4).attr('y2', -3.5);
    legend.append('path')
      .attr('d', `M37.5,${row.y - 3}l6,6M43.5,${row.y - 3}l-6,6`)
      .attr('stroke', '#b0b8c1').attr('stroke-width', 1);
  }
  const t = legend.append('text')
    .attr('x', tx).attr('y', row.y)
    .attr('dominant-baseline', 'middle')
    .style('white-space', 'pre');
  row.parts.forEach((p, k) => {
    t.append('tspan').attr('fill', p[1]).text((k ? ' ' : '') + p[0]);
  });
});

legend.append('rect')
  .attr('x', 16.5).attr('y', 118.5).attr('width', 22).attr('height', 16).attr('rx', 3)
  .attr('fill', '#fff').attr('stroke', '#d1d6db');
legend.append('path')
  .attr('d', 'M24.5,128.5l3,-3l3,3')
  .attr('fill', 'none').attr('stroke', '#6b7684').attr('stroke-width', 1.3);
</script>
</body>
</html>
